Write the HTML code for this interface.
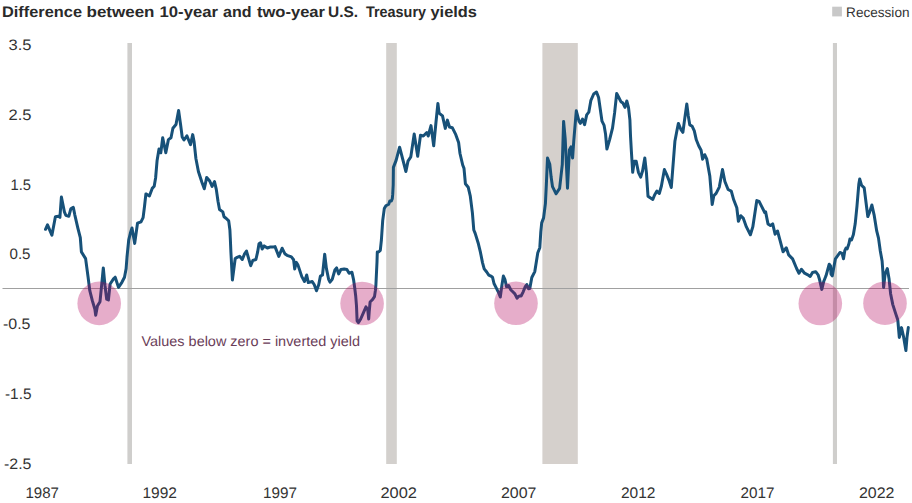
<!DOCTYPE html>
<html><head><meta charset="utf-8"><style>
html,body{margin:0;padding:0;background:#fff;width:912px;height:503px;overflow:hidden}
svg{display:block}
text{font-family:"Liberation Sans",Arial,sans-serif;text-rendering:geometricPrecision}
</style></head><body>
<svg width="912" height="503" viewBox="0 0 912 503">
<rect width="912" height="503" fill="#fff"/>
<rect x="832.2" y="6.7" width="9.7" height="9.7" fill="#c8c8c8"/>
<g fill="#d5d0cc"><rect x="127.4" y="43" width="4.6" height="421" fill="#cfcecc"/><rect x="386.2" y="43" width="10.6" height="421" fill="#d3d0cd"/><rect x="542.4" y="43" width="35.4" height="421" fill="#d5d0cc"/><rect x="832.9" y="43" width="4.1" height="421" fill="#cfcecc"/></g>
<line x1="2.5" y1="288.5" x2="909" y2="288.5" stroke="#a0a0a0" stroke-width="1"/>
<text x="2.0" y="16.7" font-size="15.3" font-weight="bold" fill="#2a2a2a" textLength="80.0" lengthAdjust="spacingAndGlyphs">Difference</text>
<text x="86.5" y="16.7" font-size="15.3" font-weight="bold" fill="#2a2a2a" textLength="68.0" lengthAdjust="spacingAndGlyphs">between</text>
<text x="159.5" y="16.7" font-size="15.3" font-weight="bold" fill="#2a2a2a" textLength="58.5" lengthAdjust="spacingAndGlyphs">10-year</text>
<text x="223.0" y="16.7" font-size="15.3" font-weight="bold" fill="#2a2a2a" textLength="28.5" lengthAdjust="spacingAndGlyphs">and</text>
<text x="257.0" y="16.7" font-size="15.3" font-weight="bold" fill="#2a2a2a" textLength="68.0" lengthAdjust="spacingAndGlyphs">two-year</text>
<text x="328.0" y="16.7" font-size="15.3" font-weight="bold" fill="#2a2a2a" textLength="30.0" lengthAdjust="spacingAndGlyphs">U.S.</text>
<text x="366.0" y="16.7" font-size="15.3" font-weight="bold" fill="#2a2a2a" textLength="60.0" lengthAdjust="spacingAndGlyphs">Treasury</text>
<text x="430.5" y="16.7" font-size="15.3" font-weight="bold" fill="#2a2a2a" textLength="46.5" lengthAdjust="spacingAndGlyphs">yields</text>
<text x="8.5" y="49.9" font-size="15.2" fill="#333333" textLength="23.0" lengthAdjust="spacingAndGlyphs">3.5</text>
<text x="8.5" y="119.7" font-size="15.2" fill="#333333" textLength="23.0" lengthAdjust="spacingAndGlyphs">2.5</text>
<text x="10.5" y="189.5" font-size="15.2" fill="#333333" textLength="20.5" lengthAdjust="spacingAndGlyphs">1.5</text>
<text x="9.5" y="259.4" font-size="15.2" fill="#333333" textLength="21.0" lengthAdjust="spacingAndGlyphs">0.5</text>
<text x="3.0" y="329.2" font-size="15.2" fill="#333333" textLength="27.5" lengthAdjust="spacingAndGlyphs">-0.5</text>
<text x="5.0" y="399.0" font-size="15.2" fill="#333333" textLength="26.5" lengthAdjust="spacingAndGlyphs">-1.5</text>
<text x="4.0" y="468.8" font-size="15.2" fill="#333333" textLength="27.5" lengthAdjust="spacingAndGlyphs">-2.5</text>
<text x="25.5" y="497.6" font-size="15.3" fill="#333333" textLength="33.5" lengthAdjust="spacingAndGlyphs">1987</text>
<text x="142.5" y="497.6" font-size="15.3" fill="#333333" textLength="34.5" lengthAdjust="spacingAndGlyphs">1992</text>
<text x="263.0" y="497.6" font-size="15.3" fill="#333333" textLength="34.0" lengthAdjust="spacingAndGlyphs">1997</text>
<text x="380.5" y="497.6" font-size="15.3" fill="#333333" textLength="36.5" lengthAdjust="spacingAndGlyphs">2002</text>
<text x="501.0" y="497.6" font-size="15.3" fill="#333333" textLength="35.5" lengthAdjust="spacingAndGlyphs">2007</text>
<text x="621.0" y="497.6" font-size="15.3" fill="#333333" textLength="34.5" lengthAdjust="spacingAndGlyphs">2012</text>
<text x="740.5" y="497.6" font-size="15.3" fill="#333333" textLength="34.0" lengthAdjust="spacingAndGlyphs">2017</text>
<text x="859.0" y="497.6" font-size="15.3" fill="#333333" textLength="35.5" lengthAdjust="spacingAndGlyphs">2022</text>
<text x="846.1" y="16.6" font-size="13.7" fill="#333333" textLength="63.4" lengthAdjust="spacingAndGlyphs">Recession</text>
<path d="M45.5,229.3 L47.5,224.8 L51.9,235.2 L55.4,216.8 L58.4,216.3 L59.9,217.3 L61.4,197.0 L64.4,211.9 L65.8,215.3 L68.8,216.3 L70.8,208.9 L73.3,207.4 L74.8,214.8 L77.8,227.8 L80.3,237.7 L81.4,251.9 L85.6,258.6 L88.1,277.2 L89.8,290.7 L92.4,300.9 L94.9,309.3 L95.7,315.2 L97.4,306.0 L100.0,301.7 L101.6,285.7 L103.3,267.9 L105.0,285.7 L106.7,299.2 L108.4,300.0 L110.1,284.0 L113.5,278.9 L115.2,277.2 L118.5,287.4 L121.9,282.3 L124.5,277.2 L126.1,268.8 L127.0,257.0 L128.7,240.1 L130.4,233.0 L132.0,228.0 L134.7,243.4 L137.5,223.2 L141.0,221.8 L143.1,217.6 L144.5,206.5 L145.9,193.9 L149.4,196.0 L152.2,188.4 L154.2,186.3 L155.6,178.0 L157.1,160.4 L159.0,149.0 L160.8,152.8 L162.7,137.7 L165.8,152.8 L168.4,139.6 L171.0,137.7 L172.9,128.3 L176.0,124.5 L178.6,110.5 L180.5,124.0 L182.2,137.0 L184.0,140.0 L186.9,135.8 L190.5,144.7 L192.7,134.6 L194.1,141.8 L195.9,158.5 L198.4,171.5 L201.9,182.2 L204.3,188.8 L206.7,177.4 L209.7,181.0 L212.1,186.4 L214.5,181.6 L216.3,189.4 L218.0,201.3 L219.5,209.5 L222.8,211.9 L224.0,216.7 L226.3,218.5 L228.7,220.9 L229.9,230.0 L230.3,238.0 L230.9,252.0 L232.4,280.0 L235.2,258.5 L237.1,257.4 L239.6,256.3 L242.3,259.5 L244.4,254.2 L246.5,251.1 L248.6,258.4 L250.7,265.7 L252.8,260.5 L255.9,259.5 L257.6,252.2 L259.0,243.8 L260.5,242.8 L262.2,249.0 L264.2,245.9 L267.4,248.0 L270.5,246.9 L273.6,246.9 L275.0,246.6 L278.8,256.4 L282.1,248.2 L284.8,253.7 L287.0,255.3 L291.4,256.9 L293.6,259.7 L294.7,269.0 L296.3,262.4 L298.0,265.1 L301.8,276.6 L304.5,281.5 L306.7,275.0 L308.3,282.6 L312.2,281.5 L314.3,284.8 L316.5,290.8 L318.7,284.8 L320.4,276.1 L322.5,275.0 L324.7,254.2 L326.4,268.4 L328.6,279.3 L330.0,282.1 L332.2,279.3 L334.9,270.0 L336.6,267.9 L338.7,273.9 L340.9,269.5 L344.2,269.0 L346.9,269.5 L349.1,273.3 L351.9,272.2 L353.5,279.3 L354.6,287.0 L355.7,296.0 L356.5,306.0 L357.1,320.8 L358.4,322.6 L360.7,319.0 L363.8,311.9 L366.0,306.9 L367.8,310.1 L368.7,319.0 L369.2,311.9 L370.1,302.0 L372.3,299.8 L374.5,296.6 L375.4,290.4 L375.9,285.0 L377.0,261.9 L377.3,252.0 L378.6,252.0 L380.3,250.4 L381.4,240.0 L382.7,220.6 L384.3,208.6 L385.9,205.8 L388.7,204.2 L389.8,200.9 L391.4,200.9 L392.3,198.7 L392.7,194.4 L393.2,185.0 L393.4,167.4 L396.1,160.4 L399.6,147.2 L405.9,171.5 L408.0,161.1 L410.8,156.9 L414.2,133.9 L417.7,156.2 L420.5,135.3 L423.3,136.0 L426.8,132.5 L428.2,136.0 L431.0,125.6 L433.7,145.8 L436.0,122.0 L437.9,103.5 L439.1,113.1 L442.5,115.9 L445.3,128.4 L447.4,120.1 L449.5,127.0 L452.3,127.7 L455.8,134.7 L458.6,142.4 L460.0,153.5 L462.7,165.0 L464.0,168.4 L465.4,183.7 L468.2,187.2 L470.3,196.2 L472.4,212.9 L473.8,230.0 L475.2,233.4 L478.4,243.8 L480.4,252.1 L482.5,262.6 L484.2,268.8 L486.7,272.0 L488.8,275.1 L490.9,276.1 L492.5,277.2 L494.0,283.5 L496.1,287.6 L498.2,291.8 L500.3,297.0 L501.7,286.6 L503.4,276.1 L504.9,279.3 L506.5,286.6 L508.6,285.5 L510.7,289.7 L512.8,291.8 L514.9,293.9 L517.0,298.1 L519.1,296.0 L521.1,296.0 L523.2,291.8 L525.3,286.6 L526.8,284.5 L528.5,288.7 L529.8,288.5 L531.8,277.5 L534.8,271.6 L537.8,252.7 L539.8,247.7 L540.8,231.8 L541.7,222.9 L543.6,217.9 L545.4,203.6 L546.3,185.7 L547.5,158.0 L549.8,164.3 L551.1,176.8 L552.5,186.6 L556.1,193.8 L559.6,188.4 L562.3,164.3 L563.6,121.4 L565.2,138.9 L567.5,188.2 L569.4,150.0 L571.0,146.8 L572.6,158.0 L573.8,140.5 L575.4,121.4 L576.3,110.8 L579.0,121.2 L580.4,123.3 L582.5,119.1 L584.6,124.7 L586.7,114.9 L588.8,112.2 L590.9,100.3 L593.7,94.0 L596.5,92.0 L598.6,97.5 L600.6,111.5 L602.0,121.2 L604.1,125.4 L605.5,133.7 L606.9,149.0 L609.7,139.3 L612.5,128.2 L614.6,112.9 L616.7,93.4 L618.8,97.5 L620.9,101.7 L622.9,103.1 L625.0,107.3 L626.8,101.0 L628.5,107.3 L629.9,119.8 L630.5,135.7 L631.4,151.6 L632.7,172.3 L634.3,161.2 L636.2,161.2 L638.4,172.3 L640.7,177.1 L642.6,170.7 L644.8,158.0 L646.4,172.3 L648.0,196.2 L650.2,197.8 L652.8,199.4 L654.6,195.0 L656.9,191.1 L659.3,193.5 L661.4,186.0 L664.4,169.6 L666.5,174.1 L668.9,180.1 L671.3,187.5 L673.4,160.7 L674.9,141.3 L676.9,130.8 L678.4,123.4 L680.8,129.3 L682.9,132.3 L684.7,118.9 L686.8,104.0 L688.3,115.9 L689.8,124.9 L692.2,126.3 L694.3,130.8 L696.3,139.8 L698.7,145.7 L701.1,150.2 L702.6,159.2 L704.7,154.7 L706.8,159.2 L709.8,175.9 L712.2,204.6 L713.8,195.8 L716.1,193.4 L719.3,187.1 L722.5,169.6 L724.9,181.5 L728.1,189.5 L731.3,191.1 L733.7,199.8 L736.8,207.8 L738.4,221.3 L740.8,215.7 L743.2,218.1 L746.4,226.9 L750.4,234.8 L752.8,226.9 L756.8,200.6 L759.1,201.4 L761.5,206.2 L764.7,212.5 L765.6,211.9 L768.0,223.9 L770.4,225.5 L772.7,223.9 L775.1,234.2 L777.5,231.0 L779.9,239.8 L783.1,251.8 L786.3,247.8 L788.7,254.9 L792.6,258.9 L796.6,268.5 L799.0,273.2 L801.4,269.3 L804.6,273.2 L807.8,274.8 L810.2,276.4 L812.5,272.5 L815.7,271.7 L818.1,274.8 L819.6,279.8 L821.8,289.4 L823.8,281.2 L826.0,275.8 L829.2,264.2 L830.5,266.0 L831.0,274.0 L832.3,275.8 L833.6,268.6 L835.4,258.8 L837.7,255.7 L839.9,252.5 L842.1,253.4 L843.5,258.8 L844.8,250.7 L846.0,248.0 L847.2,248.9 L849.0,243.5 L849.9,239.0 L851.6,239.9 L853.4,234.5 L855.2,223.8 L857.0,205.8 L858.8,184.3 L859.7,179.0 L861.5,185.2 L864.2,187.9 L866.0,202.3 L867.8,216.6 L869.6,212.1 L871.9,205.0 L874.1,214.8 L876.7,230.9 L878.5,238.1 L880.3,251.0 L882.1,261.0 L882.9,271.9 L883.6,287.5 L885.1,274.0 L887.3,268.6 L889.0,278.4 L890.6,293.7 L892.8,304.6 L895.6,313.4 L897.8,320.0 L899.3,337.4 L901.5,327.6 L903.7,337.4 L905.9,350.5 L907.0,337.4 L908.3,327.6" fill="none" stroke="#175179" stroke-width="3" stroke-linejoin="round" stroke-linecap="round"/>
<g fill="#b10059" fill-opacity="0.32"><circle cx="99.2" cy="303.4" r="21.8"/><circle cx="362.1" cy="303.5" r="21.8"/><circle cx="516" cy="303.3" r="21.8"/><circle cx="820.3" cy="303.5" r="21.8"/><circle cx="885" cy="303.2" r="21.8"/></g>
<text x="141.5" y="345.6" font-size="14.1" fill="#6a3d58" textLength="218.5" lengthAdjust="spacingAndGlyphs">Values below zero = inverted yield</text>
</svg>
</body></html>
